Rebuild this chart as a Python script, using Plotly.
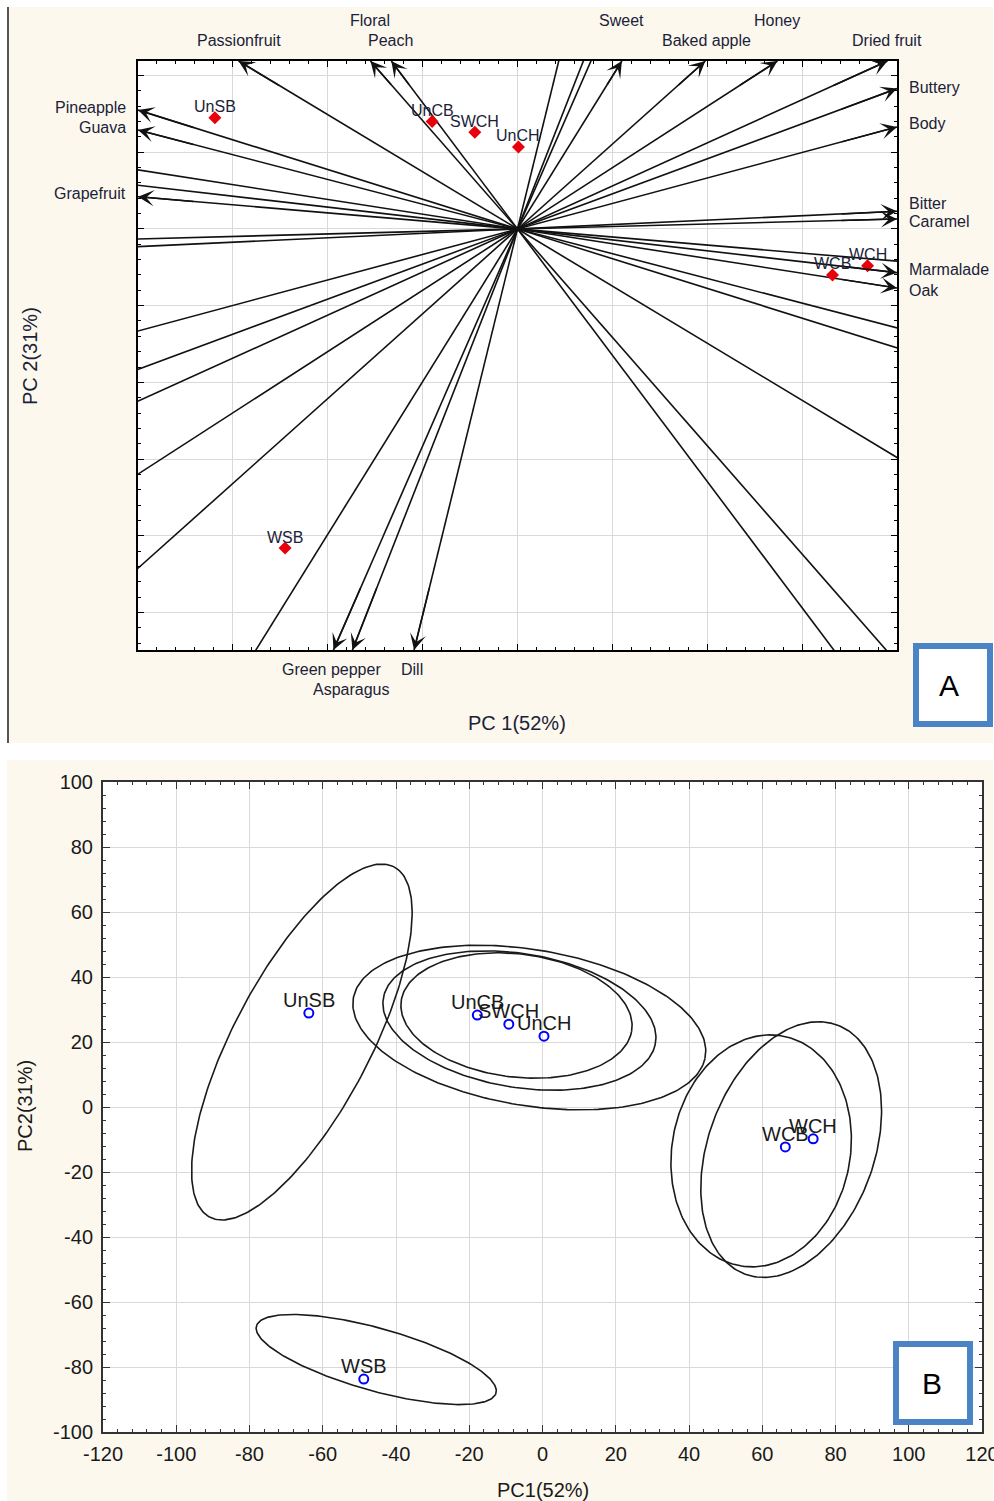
import numpy as np
import plotly.graph_objects as go

W, H = 994, 1501

# ---------------- Panel A: biplot (scaled loading / score units) ----------------
variables = ["Passionfruit", "Floral", "Peach", "Sweet", "Baked apple", "Honey", "Dried fruit",
             "Buttery", "Body", "Bitter", "Caramel", "Marmalade", "Oak",
             "Pineapple", "Guava", "Grapefruit", "Green pepper", "Asparagus", "Dill"]
var_pc1 = [-2.94, -1.55, -1.33, 1.10, 1.98, 2.74, 3.90,
           4.0, 4.0, 4.0, 4.0, 4.0, 4.0,
           -4.0, -4.0, -4.0, -1.94, -1.74, -1.09]
var_pc2 = [2.19, 2.19, 2.19, 2.19, 2.19, 2.19, 2.19,
           1.83, 1.33, 0.23, 0.13, -0.57, -0.77,
           1.55, 1.29, 0.42, -5.49, -5.49, -5.49]

samples = ["UnSB", "UnCB", "SWCH", "UnCH", "WCB", "WCH", "WSB"]
a_pc1 = [-3.19, -0.90, -0.45, 0.01, 3.32, 3.69, -2.45]
a_pc2 = [1.45, 1.40, 1.26, 1.07, -0.60, -0.48, -4.16]

# ---------------- Panel B: score plot with group ellipses ----------------
b_pc1 = [-63.8, -17.8, -9.2, 0.4, 66.3, 73.9, -48.8]
b_pc2 = [28.9, 28.3, 25.5, 21.8, -12.3, -9.8, -83.7]

ellipse_group = ["UnSB", "WSB", "UnCH", "SWCH", "UnCB", "WCB", "WCH"]
ell_cx = [-65.7, -45.4, -3.6, -6.3, -7.1, 59.7, 67.9]
ell_cy = [20.0, -77.7, 24.45, 26.6, 28.15, -13.5, -13.1]
ell_a = [59.5, 34.3, 48.9, 37.8, 31.8, 35.85, 40.4]
ell_b = [19.1, 9.53, 23.9, 20.5, 18.9, 24.4, 22.9]
ell_deg = [65.6, -17.8, -11.3, -11.4, -8.7, 82.5, 73.95]

b_xticks = [-120, -100, -80, -60, -40, -20, 0, 20, 40, 60, 80, 100, 120]
b_yticks = [-100, -80, -60, -40, -20, 0, 20, 40, 60, 80, 100]

# ---------------- styling / layout helpers ----------------
FONT = "Liberation Sans, Arial, sans-serif"
NAVY = "#1b2238"
DARK = "#1a1a1a"
CREAM = "#fcf8ee"
BOXBLUE = "#4a84c4"

# label nudges (px) for variable names: (xshift, yshift, xanchor)
LABEL_SHIFT = {
    "Passionfruit": (0, 21, "center"), "Floral": (0, 41, "center"), "Peach": (-1, 21, "center"),
    "Sweet": (0, 41, "center"), "Baked apple": (1, 21, "center"), "Honey": (0, 41, "center"),
    "Dried fruit": (-1, 21, "center"),
    "Buttery": (10, 1, "left"), "Body": (10, 3, "left"), "Bitter": (10, 8, "left"),
    "Caramel": (10, -3, "left"), "Marmalade": (10, 3, "left"), "Oak": (10, -2, "left"),
    "Pineapple": (-10, 3, "right"), "Guava": (-10, 3, "right"), "Grapefruit": (-10, 3, "right"),
    "Green pepper": (-2, -19, "center"), "Asparagus": (-1, -39, "center"), "Dill": (-2, -19, "center"),
}


def px(x):
    return x / W


def py(y):
    return 1 - y / H


A_X = (138, 897)
A_Y = (61, 650)
B_X = (103, 982)
B_Y = (782, 1432)

fig = go.Figure()

# biplot axis lines through the origin (clipped by the plot area)
lx, ly = [], []
for p1, p2 in zip(var_pc1, var_pc2):
    lx += [-8 * p1, p1, None]
    ly += [-8 * p2, p2, None]
fig.add_trace(go.Scatter(x=lx, y=ly, mode="lines", line=dict(color="#111111", width=1.6),
                         hoverinfo="skip", xaxis="x", yaxis="y"))

fig.add_trace(go.Scatter(x=a_pc1, y=a_pc2, mode="markers",
                         marker=dict(symbol="diamond", size=10, color="#e8000b"),
                         text=samples, xaxis="x", yaxis="y"))

# ellipses for panel B
for cx, cy, a, b, d in zip(ell_cx, ell_cy, ell_a, ell_b, ell_deg):
    t = np.linspace(0, 2 * np.pi, 241)
    th = np.deg2rad(d)
    ex = cx + a * np.cos(th) * np.cos(t) - b * np.sin(th) * np.sin(t)
    ey = cy + a * np.sin(th) * np.cos(t) + b * np.cos(th) * np.sin(t)
    fig.add_trace(go.Scatter(x=ex, y=ey, mode="lines", line=dict(color="#1a1a1a", width=1.6),
                             hoverinfo="skip", xaxis="x2", yaxis="y2"))

fig.add_trace(go.Scatter(x=b_pc1, y=b_pc2, mode="markers",
                         marker=dict(symbol="circle-open", size=9, color="#0000ff",
                                     line=dict(width=2, color="#0000ff")),
                         text=samples, xaxis="x2", yaxis="y2"))

annotations = []
# arrow heads + variable labels
for name, p1, p2 in zip(variables, var_pc1, var_pc2):
    annotations.append(dict(x=p1, y=p2, ax=p1 * 0.85, ay=p2 * 0.85, xref="x", yref="y",
                            axref="x", ayref="y", text="", showarrow=True, arrowhead=3,
                            arrowsize=1.8, arrowwidth=1.5, arrowcolor="#111111", standoff=0))
    xs, ys, anc = LABEL_SHIFT[name]
    annotations.append(dict(x=p1, y=p2, xref="x", yref="y", text=name, showarrow=False,
                            xanchor=anc, yanchor="middle", xshift=xs, yshift=ys,
                            font=dict(family=FONT, size=16, color=NAVY)))

for name, p1, p2 in zip(samples, a_pc1, a_pc2):
    annotations.append(dict(x=p1, y=p2, xref="x", yref="y", text=name, showarrow=False,
                            xanchor="center", yanchor="middle", yshift=11,
                            font=dict(family=FONT, size=16, color=NAVY)))

for name, p1, p2 in zip(samples, b_pc1, b_pc2):
    annotations.append(dict(x=p1, y=p2, xref="x2", yref="y2", text=name, showarrow=False,
                            xanchor="center", yanchor="middle", yshift=13,
                            font=dict(family=FONT, size=20, color=DARK)))

# axis titles and panel letters
def paper_text(x, y, text, size, color, angle=0):
    return dict(x=px(x), y=py(y), xref="paper", yref="paper", text=text, showarrow=False,
                xanchor="center", yanchor="middle", textangle=angle,
                font=dict(family=FONT, size=size, color=color))


annotations += [
    paper_text(517, 723, "PC 1(52%)", 20, NAVY),
    paper_text(30, 356, "PC 2(31%)", 20, NAVY, -90),
    paper_text(543, 1490, "PC1(52%)", 20, DARK),
    paper_text(25, 1106, "PC2(31%)", 20, DARK, -90),
    paper_text(949, 685, "A", 30, "black"),
    paper_text(932, 1383, "B", 30, "black"),
]

shapes = [
    dict(type="rect", xref="paper", yref="paper", x0=px(7), x1=px(993), y0=py(743), y1=py(7),
         fillcolor=CREAM, line=dict(width=0), layer="below"),
    dict(type="rect", xref="paper", yref="paper", x0=px(7), x1=px(993), y0=py(1501), y1=py(760),
         fillcolor=CREAM, line=dict(width=0), layer="below"),
    dict(type="rect", xref="paper", yref="paper", x0=px(A_X[0]), x1=px(A_X[1]), y0=py(A_Y[1]),
         y1=py(A_Y[0]), fillcolor="white", line=dict(width=0), layer="below"),
    dict(type="rect", xref="paper", yref="paper", x0=px(B_X[0]), x1=px(B_X[1]), y0=py(B_Y[1]),
         y1=py(B_Y[0]), fillcolor="white", line=dict(width=0), layer="below"),
    dict(type="line", xref="paper", yref="paper", x0=px(8), x1=px(8), y0=py(743), y1=py(7),
         line=dict(color="#555555", width=2), layer="below"),
    dict(type="rect", xref="paper", yref="paper", x0=px(916), x1=px(990), y0=py(724), y1=py(646),
         fillcolor="white", line=dict(color=BOXBLUE, width=6)),
    dict(type="rect", xref="paper", yref="paper", x0=px(896), x1=px(970), y0=py(1422), y1=py(1344),
         fillcolor="white", line=dict(color=BOXBLUE, width=6)),
]

common_a = dict(showgrid=True, gridcolor="#d9d9d9", gridwidth=1, zeroline=False, automargin=False,
                showline=True, linecolor="black", linewidth=1.5, mirror="allticks",
                ticks="inside", ticklen=6, tickcolor="black", showticklabels=False,
                tickmode="linear", tick0=0, dtick=1,
                minor=dict(ticks="inside", ticklen=3, tickmode="linear", tick0=0, dtick=0.2,
                           tickcolor="black", showgrid=False))
common_b = dict(showgrid=True, gridcolor="#d9d9d9", gridwidth=1, zeroline=False, automargin=False,
                showline=True, linecolor="#333333", linewidth=2, mirror="allticks",
                ticks="inside", ticklen=7, tickcolor="#333333", showticklabels=True,
                tickfont=dict(family=FONT, size=20, color=DARK), ticklabeloverflow="allow",
                minor=dict(ticks="inside", ticklen=3, tickmode="linear", tick0=0, dtick=4,
                           tickcolor="#333333", showgrid=False))

fig.update_layout(
    template="none",
    width=W, height=H, autosize=False, margin=dict(l=0, r=0, t=0, b=0, pad=0),
    paper_bgcolor="white", plot_bgcolor="white", showlegend=False,
    xaxis=dict(domain=[px(A_X[0]), px(A_X[1])], range=[-4, 4], anchor="y", **common_a),
    yaxis=dict(domain=[py(A_Y[1]), py(A_Y[0])], range=[-5.49, 2.19], anchor="x", **common_a),
    xaxis2=dict(domain=[px(B_X[0]), px(B_X[1])], range=[-120, 120], anchor="y2",
                tickmode="array", tickvals=b_xticks, ticktext=[str(v) for v in b_xticks],
                ticklabelstandoff=3, **common_b),
    yaxis2=dict(domain=[py(B_Y[1]), py(B_Y[0])], range=[-100, 100], anchor="x2",
                tickmode="array", tickvals=b_yticks, ticktext=[str(v) for v in b_yticks],
                ticklabelstandoff=4, **common_b),
    annotations=annotations, shapes=shapes,
)

fig.write_html("out.html")
